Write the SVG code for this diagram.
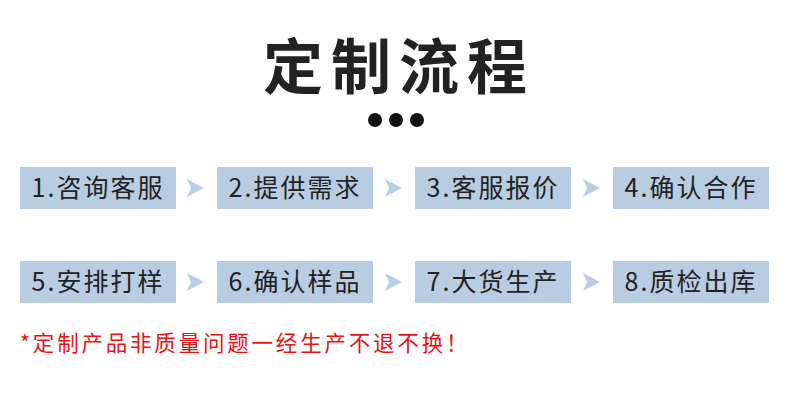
<svg xmlns="http://www.w3.org/2000/svg" width="790" height="410" viewBox="0 0 790 410">
<style>
.box{fill:#b9cde2}
.lbl{font-family:"Noto Sans CJK SC","Noto Sans",sans-serif;font-size:25px;fill:#222;text-anchor:middle;letter-spacing:2px}
.arr{fill:#b9cfe8}
</style>
<rect width="790" height="410" fill="#fff"/>
<text x="399" y="89" font-family="'Noto Sans CJK SC',sans-serif" font-size="60" font-weight="bold" fill="#222" text-anchor="middle" letter-spacing="8">定制流程</text>
<g id="dots" fill="#111">
<circle cx="375" cy="120" r="7"/><circle cx="396" cy="120" r="7"/><circle cx="417" cy="120" r="7"/>
</g>
<g id="n1"><rect class="box" x="20" y="167" width="156" height="42"/><text class="lbl" x="98" y="197">1.咨询客服</text></g>
<g id="n2"><rect class="box" x="217" y="167" width="156" height="42"/><text class="lbl" x="295" y="197">2.提供需求</text></g>
<g id="n3"><rect class="box" x="415" y="167" width="156" height="42"/><text class="lbl" x="493" y="197">3.客服报价</text></g>
<g id="n4"><rect class="box" x="613" y="167" width="156" height="42"/><text class="lbl" x="691" y="197">4.确认合作</text></g>
<g id="n5"><rect class="box" x="20" y="261" width="156" height="42"/><text class="lbl" x="98" y="291">5.安排打样</text></g>
<g id="n6"><rect class="box" x="217" y="261" width="156" height="42"/><text class="lbl" x="295" y="291">6.确认样品</text></g>
<g id="n7"><rect class="box" x="415" y="261" width="156" height="42"/><text class="lbl" x="493" y="291">7.大货生产</text></g>
<g id="n8"><rect class="box" x="613" y="261" width="156" height="42"/><text class="lbl" x="691" y="291">8.质检出库</text></g>
<g id="connectors">
<polygon class="arr" points="187,179 204,188 187,197 191,188"/>
<polygon class="arr" points="385,179 402,188 385,197 389,188"/>
<polygon class="arr" points="583,179 600,188 583,197 587,188"/>
<polygon class="arr" points="187,273 204,282 187,291 191,282"/>
<polygon class="arr" points="385,273 402,282 385,291 389,282"/>
<polygon class="arr" points="583,273 600,282 583,291 587,282"/>
</g>
<text x="20" y="351" font-family="'Noto Sans CJK SC',sans-serif" font-size="21.5" fill="#ee1111" letter-spacing="2.8">*定制产品非质量问题一经生产不退不换！</text>
</svg>
